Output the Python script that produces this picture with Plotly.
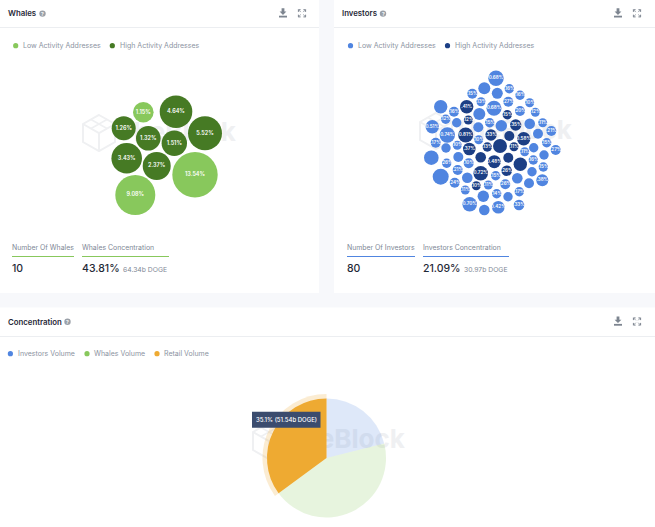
import plotly.graph_objects as go

# whales bubbles, positions
whale_labels = ["1.15%", "4.64%", "5.52%", "1.26%", "1.32%", "1.51%", "3.43%", "2.37%", "13.54%", "9.08%"]
whale_active = [0, 1, 1, 1, 1, 1, 1, 1, 0, 0]
whale_x = [143.3, 176, 205, 123.7, 148.3, 174.3, 126.7, 156.7, 195, 135.3]
whale_y = [112.3, 111.7, 133.3, 128.3, 138.3, 143.3, 158.3, 166, 174.7, 195]
whale_r = [10.3, 16.3, 17, 12, 12.3, 12.7, 15.3, 14, 22.7, 20]

# investors bubbles: (x, y, radius, label, high activity)
investor_rows = [
    (496, 78.3, 7.7, "0.68%", 0), (484.3, 88.3, 6, "", 0), (497.3, 93.3, 5.5, "", 0),
    (472.3, 93.7, 5, ".15%", 0), (481, 101.7, 4.5, ".13%", 0), (466.7, 106.7, 6.7, ".41%", 1),
    (494, 108.3, 7.5, "0.68%", 0), (440.7, 106.7, 6.7, "", 0), (454, 111.7, 5, ".16%", 0),
    (468.3, 120, 4.5, ".12%", 1), (479.3, 114, 6, "", 0), (445.7, 119.3, 4.7, ".12%", 0),
    (456.7, 122.7, 4.7, "", 0), (432.3, 126.7, 6.7, "0.51%", 0), (447.3, 135, 7.7, "0.74%", 0),
    (465.7, 135, 7.5, "0.81%", 1), (478.3, 127.3, 5, "", 0), (489.7, 122.7, 4.7, ".15%", 0),
    (491, 135, 5.7, ".33%", 1), (478.7, 139.7, 4.5, ".10%", 0), (435.7, 142.7, 5, ".17%", 0),
    (457.3, 145.3, 4.5, ".10%", 0), (469.3, 149, 6.3, ".37%", 1), (487.3, 147, 4.7, ".13%", 1),
    (500, 146, 7, "", 1), (446, 148, 4.7, "", 0), (501.3, 125.7, 5.7, "", 0),
    (509.3, 88.7, 4.7, ".16%", 0), (520, 95.3, 4.7, ".16%", 0), (508.3, 101.7, 5, ".27%", 0),
    (529.7, 102.7, 4.5, ".10%", 0), (520, 111, 5, ".20%", 0), (535.3, 112.3, 4.5, ".12%", 0),
    (507.3, 114.7, 4.7, ".15%", 1), (542.7, 122.7, 4.5, ".11%", 0), (515.7, 125, 5.7, ".35%", 1),
    (529.7, 123.7, 5.3, "", 0), (551.3, 131, 5, ".21%", 0), (538, 133.7, 5, "", 0),
    (509.3, 136, 5, "", 1), (523.7, 138.7, 6.7, "0.58%", 1), (546.7, 142.7, 4.7, ".15%", 0),
    (555.7, 150, 5, ".27%", 0), (514, 146.7, 4.5, ".11%", 1), (533.7, 147.7, 4.7, "", 0),
    (431.3, 157.7, 7.3, "", 0), (458.3, 157, 5, "", 0), (446.7, 163.3, 4.7, ".26%", 0),
    (468.7, 163.3, 5, ".10%", 0), (480.7, 157.3, 5.3, "", 1), (494.3, 161.7, 6.5, "0.48%", 1),
    (480.7, 173.3, 7.3, "0.72%", 1), (457.7, 170, 5, ".21%", 0), (440.7, 176.7, 8, "", 0),
    (467.3, 177.7, 5.3, "", 0), (495.7, 175.7, 4.7, ".15%", 0), (454.7, 182.7, 5, ".24%", 0),
    (476.3, 185.7, 4.5, ".10%", 1), (488.3, 185, 4.5, ".11%", 0), (465.3, 190, 4.5, ".11%", 0),
    (483.3, 196.3, 5.7, "", 0), (496.7, 193.7, 4.7, ".14%", 0), (469.7, 204.3, 7.3, "0.70%", 0),
    (498.3, 207.3, 6.3, "0.42%", 0), (484.3, 210, 5.3, "", 0), (505.3, 184.3, 5, ".26%", 0),
    (524.7, 151.7, 4.5, ".11%", 0), (508.3, 157.7, 5, "", 1), (520.3, 164.3, 6.7, "", 1),
    (533.3, 160, 4.7, ".16%", 0), (544, 155, 4.7, "", 0), (543.3, 167, 4.7, ".15%", 0),
    (506.7, 170.7, 5.3, ".26%", 1), (532, 171.7, 4.7, "", 0), (517.3, 178.3, 5.3, "", 0),
    (542.3, 180.3, 6, ".38%", 0), (529, 183.3, 5, "", 0), (519.3, 191.7, 4.7, ".17%", 0),
    (508, 196.7, 4.7, "", 0), (519, 205, 5.3, ".33%", 0),
]

concentration_names = ["Investors Volume", "Whales Volume", "Retail Volume"]
concentration_values = [21.09, 43.81, 35.1]

W, H = 655, 527
FONT = "Inter, Roboto, sans-serif"
LIGHT_GREEN, DARK_GREEN = "#88c85c", "#467a24"
LIGHT_BLUE, DARK_BLUE = "#5085e0", "#1c3f85"
ORANGE = "#eeaa32"
INK, MUTED = "#1f2937", "#8b93a1"
ICON = "#7d8590"
MARK = "#eff0f2"

shapes = []
annotations = []


def label(x, y, text, size=7, color=MUTED, weight=400, anchor="left"):
    annotations.append(dict(
        x=x, y=y, text=text, showarrow=False, xanchor=anchor, yanchor="middle",
        borderpad=0, borderwidth=0,
        font=dict(family=FONT, size=size, color=color, weight=weight),
    ))


def rect(x0, y0, x1, y1, fill, layer="below"):
    shapes.append(dict(type="rect", x0=x0, y0=y0, x1=x1, y1=y1, fillcolor=fill,
                       line_width=0, layer=layer))


def dot(x, y, color, r=2.6):
    shapes.append(dict(type="circle", x0=x - r, y0=y - r, x1=x + r, y1=y + r,
                       fillcolor=color, line_width=0, layer="below"))


def line(path, color, width=1.0, layer="below"):
    shapes.append(dict(type="path", path=path, line=dict(color=color, width=width), layer=layer))


def header(x_title, x_help, x_icons, y, title):
    label(x_title, y, title, size=7.8, color=INK, weight=600)
    dot(x_help, y + 0.3, "#9aa0a8", r=3.2)
    label(x_help, y + 0.3, "?", size=5, color="#ffffff", weight=700, anchor="center")
    dx, ex = x_icons
    # download icon
    shapes.append(dict(type="path", layer="below", fillcolor=ICON, line_width=0,
                       path=f"M{dx-1.4},{y-5} L{dx+1.4},{y-5} L{dx+1.4},{y-1.8} L{dx+3.4},{y-1.8} "
                            f"L{dx},{y+1.6} L{dx-3.4},{y-1.8} L{dx-1.4},{y-1.8} Z"))
    rect(dx - 4, y + 2.4, dx + 4, y + 4.2, ICON)
    # expand icon
    for sx in (-1, 1):
        for sy in (-1, 1):
            cx, cy = ex + sx * 3.6, y + sy * 3.6
            line(f"M{cx},{cy - sy * 2.2} L{cx},{cy} L{cx - sx * 2.2},{cy}", ICON, 1)
            line(f"M{cx},{cy} L{cx - sx * 2.4},{cy - sy * 2.4}", ICON, 0.8)


def logo(cx, cy):
    top, bottom = cy - 18, cy + 18
    left, right = cx - 16, cx + 16
    line(f"M{cx},{top} L{right},{cy-9} L{right},{cy+9} L{cx},{bottom} L{left},{cy+9} L{left},{cy-9} Z", MARK, 2)
    line(f"M{left},{cy-9} L{cx},{cy} L{right},{cy-9} M{cx},{cy} L{cx},{bottom}", MARK, 2)
    line(f"M{cx-8},{cy-13.5} L{cx+8},{cy-4.5} M{cx+8},{cy-13.5} L{cx-8},{cy-4.5}", MARK, 1.5)


# cards
rect(0, 0, W, H, "#f7f8fb")
rect(-6, -6, 319, 293, "#ffffff")
rect(334, -6, W + 6, 293, "#ffffff")
rect(-6, 307.5, W + 6, H + 6, "#ffffff")
for x0, x1, y in [(0, 319, 27.5), (334, W, 27.5), (0, W, 336.5)]:
    line(f"M{x0},{y} L{x1},{y}", "#eceef1", 1)

header(8, 42.5, (283, 302), 13.3, "Whales")
header(342, 383, (618, 637), 13.3, "Investors")
header(8, 67.5, (618, 637), 321.5, "Concentration")

# legends
for dot_x, text_x, y, color, text in [
    (15.7, 22.7, 45.7, LIGHT_GREEN, "Low Activity Addresses"),
    (112.3, 119.7, 45.7, DARK_GREEN, "High Activity Addresses"),
    (350.5, 357.5, 45.7, LIGHT_BLUE, "Low Activity Addresses"),
    (447.5, 455, 45.7, DARK_BLUE, "High Activity Addresses"),
    (10.4, 17.5, 353.7, LIGHT_BLUE, concentration_names[0]),
    (87, 94, 353.7, LIGHT_GREEN, concentration_names[1]),
    (157, 164, 353.7, ORANGE, concentration_names[2]),
]:
    dot(dot_x, y, color)
    label(text_x, y, text)

# stat blocks under the bubbles
for x0, x1, text, value, color in [
    (12, 74, "Number Of Whales", "10", LIGHT_GREEN),
    (82, 169, "Whales Concentration", "43.81%", LIGHT_GREEN),
    (347, 415, "Number Of Investors", "80", LIGHT_BLUE),
    (423, 509, "Investors Concentration", "21.09%", LIGHT_BLUE),
]:
    label(x0, 247.3, text, size=6.9, color="#808896")
    line(f"M{x0},{256.5} L{x1},{256.5}", color, 1)
    label(x0, 268.3, value, size=10.5, color=INK, weight=500)
label(123, 269, "64.34b DOGE", size=6.8, color="#808896")
label(464, 269, "30.97b DOGE", size=6.8, color="#808896")

logo(99, 133)
logo(436, 131)
logo(269, 441)

fig = go.Figure()

# watermark goes in as a trace so the bubbles sit on top of it
fig.add_trace(go.Scatter(
    x=[176, 512, 345], y=[134, 132, 441], mode="text", text=["TheBlock"] * 3,
    textposition="middle center", hoverinfo="skip", showlegend=False,
    textfont=dict(family=FONT, size=26, color=MARK, weight=700),
))


def bubbles(xs, ys, radii, labels, color, text_size):
    fig.add_trace(go.Scatter(
        x=xs, y=ys, mode="markers+text", text=labels, textposition="middle center",
        marker=dict(size=[r * 2 for r in radii], color=color, line_width=0, opacity=1),
        textfont=dict(family=FONT, size=text_size, color="#ffffff", weight=600),
        showlegend=False, hoverinfo="skip", cliponaxis=False,
    ))


for active, color in [(0, LIGHT_GREEN), (1, DARK_GREEN)]:
    idx = [i for i, a in enumerate(whale_active) if a == active]
    bubbles([whale_x[i] for i in idx], [whale_y[i] for i in idx], [whale_r[i] for i in idx],
            [whale_labels[i] for i in idx], color, 5.5)

for active, color in [(0, LIGHT_BLUE), (1, DARK_BLUE)]:
    rows = [row for row in investor_rows if row[4] == active]
    bubbles([row[0] for row in rows], [row[1] for row in rows], [row[2] for row in rows],
            [row[3] for row in rows], color, 4.6)


def pie_domain(cx, cy, r):
    return dict(x=[(cx - r) / W, (cx + r) / W], y=[1 - (cy + r) / H, 1 - (cy - r) / H])


# halo ring behind the hovered slice, then the pie itself
fig.add_trace(go.Pie(
    labels=concentration_names, values=concentration_values, sort=False, direction="clockwise",
    rotation=0, textinfo="none", hoverinfo="skip", showlegend=False,
    domain=pie_domain(326.5, 458, 64),
    marker=dict(colors=["rgba(0,0,0,0)", "rgba(0,0,0,0)", "rgba(238,170,50,0.22)"], line_width=0),
))
fig.add_trace(go.Pie(
    labels=concentration_names, values=concentration_values, sort=False, direction="clockwise",
    rotation=0, textinfo="none", hoverinfo="skip", showlegend=False,
    domain=pie_domain(326.5, 458, 59.5),
    marker=dict(colors=["rgba(80,133,224,0.19)", "rgba(136,200,92,0.2)", ORANGE], line_width=0),
))

# tooltip
shapes.append(dict(type="rect", x0=252, y0=411.7, x1=320.5, y1=427.7, fillcolor="#3b4c6e",
                   line_width=0, layer="above"))
label(286.2, 419.7, "35.1% (51.54b DOGE)", size=6, color="#ffffff", weight=500, anchor="center")

fig.update_layout(
    width=W, height=H, margin=dict(l=0, r=0, t=0, b=0),
    paper_bgcolor="#f7f8fb", plot_bgcolor="rgba(0,0,0,0)", showlegend=False,
    xaxis=dict(range=[0, W], visible=False, fixedrange=True),
    yaxis=dict(range=[H, 0], visible=False, fixedrange=True),
    shapes=shapes, annotations=annotations,
)

fig.write_html("out.html", config={"displayModeBar": False},
               post_script="document.body.style.margin='0';")
